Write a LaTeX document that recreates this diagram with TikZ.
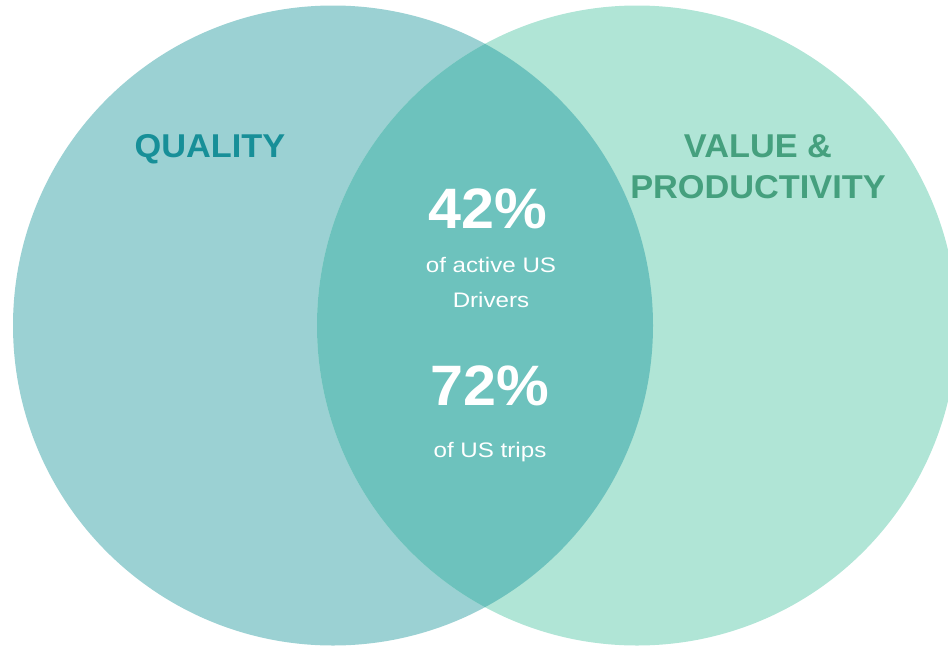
\documentclass[tikz,border=0pt]{standalone}
\usepackage{fontspec}
\setmainfont{Liberation Sans}[FakeStretch=1.04]
\newfontfamily\smallf{Liberation Sans}[FakeStretch=1.15]
\definecolor{leftc}{RGB}{155,209,211}
\definecolor{rightc}{RGB}{176,229,214}
\definecolor{midc}{RGB}{109,194,189}
\definecolor{qualc}{RGB}{23,143,152}
\definecolor{valuc}{RGB}{69,160,126}
\tikzset{
  head/.style={inner sep=0pt, anchor=base, font=\fontsize{33}{40}\selectfont\bfseries},
  big/.style={inner sep=0pt, anchor=base, text=white, font=\fontsize{57}{64}\selectfont\bfseries},
  small/.style={inner sep=0pt, anchor=base, text=white, font=\smallf\fontsize{21}{25}\selectfont}
}
\begin{document}
\begin{tikzpicture}[x=1pt,y=-1pt]
\useasboundingbox (0,0) rectangle (948,646);
\clip (0,0) rectangle (948,646);
\fill[leftc] (333,325.5) circle (320pt);
\fill[rightc] (637,325.5) circle (320pt);
\begin{scope}
  \clip (333,325.5) circle (320pt);
  \fill[midc] (637,325.5) circle (320pt);
\end{scope}
\node[head, text=qualc] (q) at (210,157) {QUALITY};
\node[head, text=valuc] (v1) at (758,157) {VALUE \&};
\node[head, text=valuc] (v2) at (758,198) {PRODUCTIVITY};
\node[big] (p1) at (488,228) {42\%};
\node[small] (t1) at (491,272) {of active US};
\node[small] (t2) at (491,307) {Drivers};
\node[big] (p2) at (490,405) {72\%};
\node[small] (t3) at (490,457) {of US trips};
\end{tikzpicture}
\end{document}
